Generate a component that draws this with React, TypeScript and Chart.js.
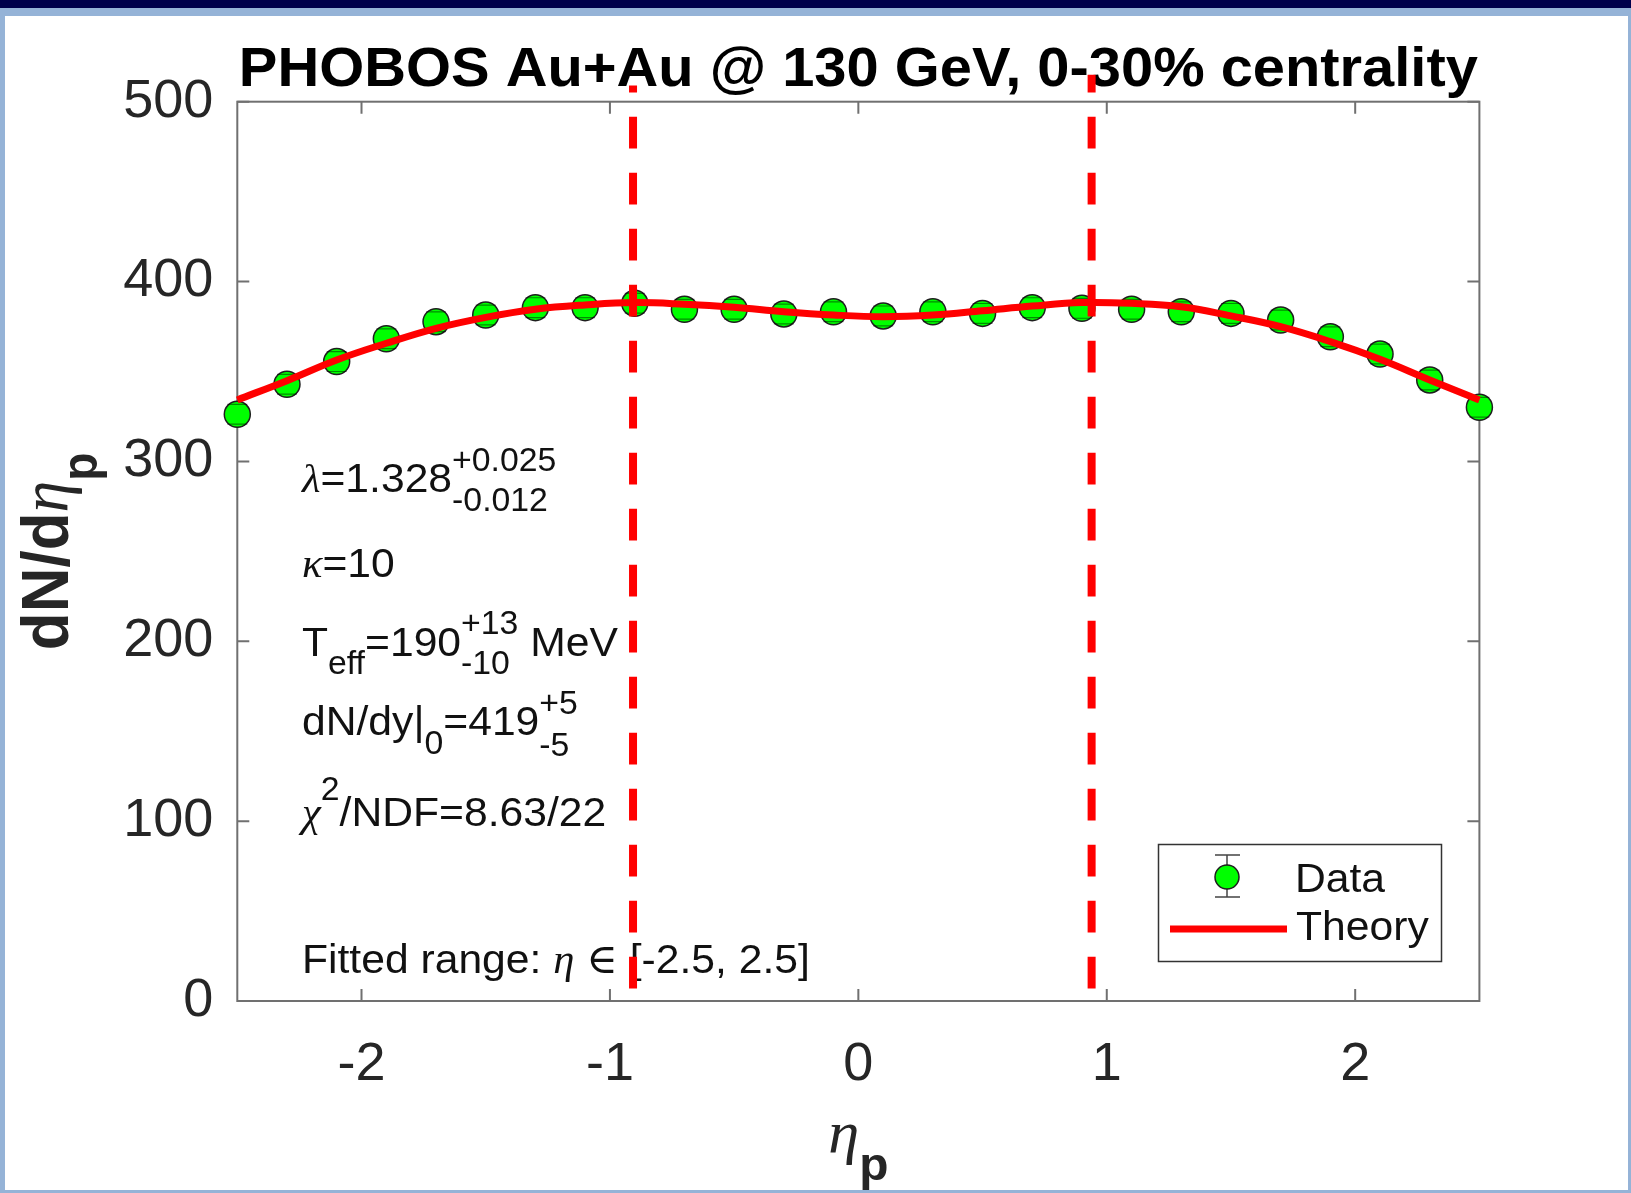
import React, { useEffect, useRef } from 'react';
import { Chart, registerables } from 'chart.js';

Chart.register(...registerables);

// ---------------- data ----------------
const etaPoints = [-2.5, -2.3, -2.1, -1.9, -1.7, -1.5, -1.3, -1.1, -0.9, -0.7, -0.5, -0.3, -0.1, 0.1, 0.3, 0.5, 0.7, 0.9, 1.1, 1.3, 1.5, 1.7, 1.9, 2.1, 2.3, 2.5];
const dataValues = [326.2, 342.9, 355.5, 368.2, 377.7, 381.4, 385.5, 385.5, 387.9, 384.6, 384.6, 382.0, 383.2, 380.9, 383.2, 382.3, 385.5, 385.1, 384.6, 383.2, 382.3, 378.6, 369.3, 359.7, 345.3, 330.1];
const dataErrors = [5.5, 5.5, 5.5, 5.5, 5.5, 5.5, 5.5, 5.5, 5.5, 5.5, 5.5, 5.5, 5.5, 5.5, 5.5, 5.5, 5.5, 5.5, 5.5, 5.5, 5.5, 5.5, 5.5, 5.5, 5.5, 5.5];

const theoryEta = [-2.5, -2.3, -2.1, -1.9, -1.7, -1.5, -1.3, -1.1, -0.9, -0.7, -0.5, -0.3, -0.1, 0.1, 0.3, 0.5, 0.7, 0.9, 1.1, 1.3, 1.5, 1.7, 1.9, 2.1, 2.3, 2.5];
const theoryValues = [334.2, 344.9, 356.4, 365.7, 374.0, 380.1, 384.6, 387.0, 388.3, 387.4, 385.7, 383.2, 381.4, 380.5, 381.4, 383.8, 386.4, 388.3, 387.9, 386.0, 380.9, 374.9, 366.6, 356.8, 345.3, 334.2];

// vertical dashed cut lines
const cutEta = [-0.907, 0.939];
const cutBottom = [7, 7];
const cutTop = [509, 515];

const xTicks = [-2, -1, 0, 1, 2];
const yTicks = [0, 100, 200, 300, 400, 500];

const titleText = 'PHOBOS Au+Au @ 130 GeV, 0-30% centrality';
const legendLabels = ['Data', 'Theory'];

// ---------------- styling ----------------
const W = 1631;
const H = 1193;
const SX = 1.04; // horizontal stretch of text seen in the reference
const SANS = '"Liberation Sans", Arial, Helvetica, sans-serif';
const SERIF = '"Liberation Serif", "DejaVu Serif", "Times New Roman", serif';
const MAIN = `41px ${SANS}`;
const SCRIPT = `32.5px ${SANS}`;
const GREEK = `italic 41px ${SERIF}`;

type Seg =
  | { t: string; f: string; dy?: number }
  | { sup: string; sub: string; f: string; up: number; down: number };

function drawSegs(ctx: CanvasRenderingContext2D, x: number, y: number, segs: Seg[], sx = SX) {
  ctx.save();
  ctx.translate(x, y);
  ctx.scale(sx, 1);
  ctx.textAlign = 'left';
  ctx.textBaseline = 'alphabetic';
  let cx = 0;
  for (const s of segs) {
    ctx.font = s.f;
    if ('t' in s) {
      ctx.fillText(s.t, cx, s.dy || 0);
      cx += ctx.measureText(s.t).width;
    } else {
      ctx.fillText(s.sup, cx, s.up);
      ctx.fillText(s.sub, cx, s.down);
      cx += Math.max(ctx.measureText(s.sup).width, ctx.measureText(s.sub).width);
    }
  }
  ctx.restore();
}

const decorPlugin = {
  id: 'decor',
  beforeDraw(chart: any) {
    const ctx: CanvasRenderingContext2D = chart.ctx;
    ctx.save();
    ctx.fillStyle = '#95b3d7';
    ctx.fillRect(0, 0, W, H);
    ctx.fillStyle = '#ffffff';
    ctx.fillRect(5, 16, W - 8, H - 19);
    ctx.fillStyle = '#00004b';
    ctx.fillRect(0, 0, W, 8);
    ctx.restore();
  },
  beforeDatasetsDraw(chart: any) {
    const ctx: CanvasRenderingContext2D = chart.ctx;
    const { left, right, top, bottom } = chart.chartArea;
    const xs = chart.scales.x;
    const ys = chart.scales.y;

    // axes box + inward ticks
    ctx.save();
    ctx.strokeStyle = '#707070';
    ctx.lineWidth = 2;
    ctx.strokeRect(left, top, right - left, bottom - top);
    ctx.beginPath();
    const tl = 12;
    for (const v of xTicks) {
      const px = xs.getPixelForValue(v);
      ctx.moveTo(px, bottom);
      ctx.lineTo(px, bottom - tl);
      ctx.moveTo(px, top);
      ctx.lineTo(px, top + tl);
    }
    for (const v of yTicks) {
      const py = ys.getPixelForValue(v);
      ctx.moveTo(left, py);
      ctx.lineTo(left + tl, py);
      ctx.moveTo(right, py);
      ctx.lineTo(right - tl, py);
    }
    ctx.stroke();
    ctx.restore();

    // title
    ctx.save();
    ctx.fillStyle = '#000000';
    ctx.font = `bold 55px ${SANS}`;
    const tw = ctx.measureText(titleText).width;
    const tsx = 1239 / tw;
    ctx.translate((left + right) / 2, 86);
    ctx.scale(tsx, 1);
    ctx.textAlign = 'center';
    ctx.textBaseline = 'alphabetic';
    ctx.fillText(titleText, 0, 0);
    ctx.restore();

    // x axis title: eta_p
    ctx.save();
    ctx.fillStyle = '#262626';
    ctx.font = `italic 60px ${SERIF}`;
    const wEta = ctx.measureText('η').width;
    ctx.font = `bold 46px ${SANS}`;
    const wP = ctx.measureText('p').width;
    const xStart = (left + right) / 2 - ((wEta + wP) * SX) / 2;
    drawSegs(ctx, xStart, 1152, [
      { t: 'η', f: `italic 60px ${SERIF}` },
      { t: 'p', f: `bold 46px ${SANS}`, dy: 28 },
    ]);
    ctx.restore();

    // y axis title: dN/d eta_p (rotated)
    ctx.save();
    ctx.fillStyle = '#262626';
    ctx.font = `bold 62px ${SANS}`;
    const w1 = ctx.measureText('dN/d').width;
    ctx.font = `italic 64px ${SERIF}`;
    const w2 = ctx.measureText('η').width;
    ctx.font = `bold 46px ${SANS}`;
    const w3 = ctx.measureText('p').width;
    const total = w1 + w2 + w3;
    const cy = (top + bottom) / 2;
    ctx.translate(68, cy + total / 2);
    ctx.scale(1.07, 1);
    ctx.rotate(-Math.PI / 2);
    ctx.textAlign = 'left';
    ctx.textBaseline = 'alphabetic';
    ctx.font = `bold 62px ${SANS}`;
    ctx.fillText('dN/d', 0, 0);
    ctx.font = `italic 64px ${SERIF}`;
    ctx.fillText('η', w1, 0);
    ctx.font = `bold 46px ${SANS}`;
    ctx.fillText('p', w1 + w2, 27);
    ctx.restore();

    // fit parameter annotations
    ctx.save();
    ctx.fillStyle = '#111111';
    const ax = 302;
    drawSegs(ctx, ax, 492, [
      { t: 'λ', f: GREEK },
      { t: '=1.328', f: MAIN },
      { sup: '+0.025', sub: '-0.012', f: SCRIPT, up: -21, down: 19 },
    ]);
    drawSegs(ctx, ax, 577, [
      { t: 'κ', f: GREEK },
      { t: '=10', f: MAIN },
    ]);
    drawSegs(ctx, ax, 656, [
      { t: 'T', f: MAIN },
      { t: 'eff', f: SCRIPT, dy: 18 },
      { t: '=190', f: MAIN },
      { sup: '+13', sub: '-10', f: SCRIPT, up: -22, down: 18 },
      { t: ' MeV', f: MAIN },
    ]);
    drawSegs(ctx, ax, 735, [
      { t: 'dN/dy|', f: MAIN },
      { t: '0', f: SCRIPT, dy: 19 },
      { t: '=419', f: MAIN },
      { sup: '+5', sub: '-5', f: SCRIPT, up: -21, down: 21 },
    ]);
    drawSegs(ctx, ax, 826, [
      { t: 'χ', f: GREEK },
      { t: '2', f: SCRIPT, dy: -26 },
      { t: '/NDF=8.63/22', f: MAIN },
    ]);
    drawSegs(ctx, ax, 973, [
      { t: 'Fitted range: ', f: MAIN },
      { t: 'η', f: GREEK },
      { t: ' ', f: MAIN },
      { t: '∈', f: `41px ${SERIF}` },
      { t: ' [-2.5, 2.5]', f: MAIN },
    ]);
    ctx.restore();

    // legend
    ctx.save();
    ctx.fillStyle = '#ffffff';
    ctx.fillRect(1158, 844, 283, 117);
    ctx.strokeStyle = '#333333';
    ctx.lineWidth = 1.5;
    ctx.strokeRect(1158.5, 844.5, 283, 117);
    // errorbar symbol
    ctx.strokeStyle = '#444444';
    ctx.lineWidth = 1.5;
    ctx.beginPath();
    ctx.moveTo(1227, 855);
    ctx.lineTo(1227, 897);
    ctx.moveTo(1215, 855);
    ctx.lineTo(1240, 855);
    ctx.moveTo(1215, 897);
    ctx.lineTo(1240, 897);
    ctx.stroke();
    ctx.beginPath();
    ctx.arc(1227, 877, 12, 0, Math.PI * 2);
    ctx.fillStyle = '#00ff00';
    ctx.fill();
    ctx.strokeStyle = '#1e1e1e';
    ctx.stroke();
    // theory line symbol
    ctx.strokeStyle = '#ff0000';
    ctx.lineWidth = 7;
    ctx.beginPath();
    ctx.moveTo(1170, 929);
    ctx.lineTo(1287, 929);
    ctx.stroke();
    ctx.fillStyle = '#111111';
    drawSegs(ctx, 1295, 892, [{ t: legendLabels[0], f: MAIN }]);
    drawSegs(ctx, 1296, 940, [{ t: legendLabels[1], f: MAIN }]);
    ctx.restore();
  },
  afterDatasetDraw(chart: any, args: any) {
    if (args.index !== 3) return;
    const ctx: CanvasRenderingContext2D = chart.ctx;
    const xs = chart.scales.x;
    const ys = chart.scales.y;
    ctx.save();
    ctx.strokeStyle = 'rgba(0,0,0,0.45)';
    ctx.lineWidth = 1.2;
    ctx.beginPath();
    etaPoints.forEach((e, i) => {
      const px = xs.getPixelForValue(e);
      const pUp = ys.getPixelForValue(dataValues[i] + dataErrors[i]);
      const pDn = ys.getPixelForValue(dataValues[i] - dataErrors[i]);
      ctx.moveTo(px - 10, pUp);
      ctx.lineTo(px + 10, pUp);
      ctx.moveTo(px - 10, pDn);
      ctx.lineTo(px + 10, pDn);
    });
    ctx.stroke();
    ctx.restore();
  },
};

export default function App() {
  const ref = useRef<HTMLCanvasElement | null>(null);

  useEffect(() => {
    document.body.style.margin = '0';
    document.body.style.overflow = 'hidden';
    const canvas = ref.current;
    if (!canvas) return;

    const cutDataset = (i: number) => ({
      label: 'cut' + i,
      data: [
        { x: cutEta[i], y: cutBottom[i] },
        { x: cutEta[i], y: cutTop[i] },
      ],
      borderColor: '#ff0000',
      borderWidth: 8,
      borderDash: [31.6, 24.4],
      borderCapStyle: 'butt',
      pointRadius: 0,
      tension: 0,
      clip: false,
    });

    const chart = new Chart(canvas, {
      type: 'line',
      data: {
        datasets: [
          cutDataset(0) as any,
          cutDataset(1) as any,
          {
            label: legendLabels[1],
            data: theoryEta.map((x, i) => ({ x, y: theoryValues[i] })),
            borderColor: '#ff0000',
            borderWidth: 7,
            pointRadius: 0,
            tension: 0.4,
            clip: false,
          },
          {
            label: legendLabels[0],
            data: etaPoints.map((x, i) => ({ x, y: dataValues[i] })),
            showLine: false,
            pointRadius: 13,
            pointBackgroundColor: '#00ff00',
            pointBorderColor: '#1e1e1e',
            pointBorderWidth: 1.5,
            clip: false,
          },
        ],
      },
      options: {
        responsive: false,
        animation: false,
        devicePixelRatio: 1,
        events: [],
        layout: { padding: { top: 101.7, right: 151.6, left: 0, bottom: 0 } },
        plugins: {
          legend: { display: false },
          title: { display: false },
          tooltip: { enabled: false },
        },
        scales: {
          x: {
            type: 'linear',
            min: -2.5,
            max: 2.5,
            afterBuildTicks: (s: any) => {
              s.ticks = xTicks.map((v) => ({ value: v }));
            },
            afterFit: (s: any) => {
              s.height = H - 1001;
            },
            grid: { display: false, drawTicks: false },
            border: { display: false },
            ticks: {
              padding: 32,
              color: '#262626',
              font: { family: SANS, size: 54 },
              maxRotation: 0,
              autoSkip: false,
              callback: (v: any) => String(v),
            },
          },
          y: {
            type: 'linear',
            min: 0,
            max: 500,
            afterBuildTicks: (s: any) => {
              s.ticks = yTicks.map((v) => ({ value: v }));
            },
            afterFit: (s: any) => {
              s.width = 237.3;
            },
            grid: { display: false, drawTicks: false },
            border: { display: false },
            ticks: {
              padding: 24,
              color: '#262626',
              font: { family: SANS, size: 54 },
              autoSkip: false,
              callback: (v: any) => String(v),
            },
          },
        },
      } as any,
      plugins: [decorPlugin as any],
    });

    return () => {
      chart.destroy();
    };
  }, []);

  return <canvas ref={ref} width={W} height={H} style={{ display: 'block' }} />;
}
